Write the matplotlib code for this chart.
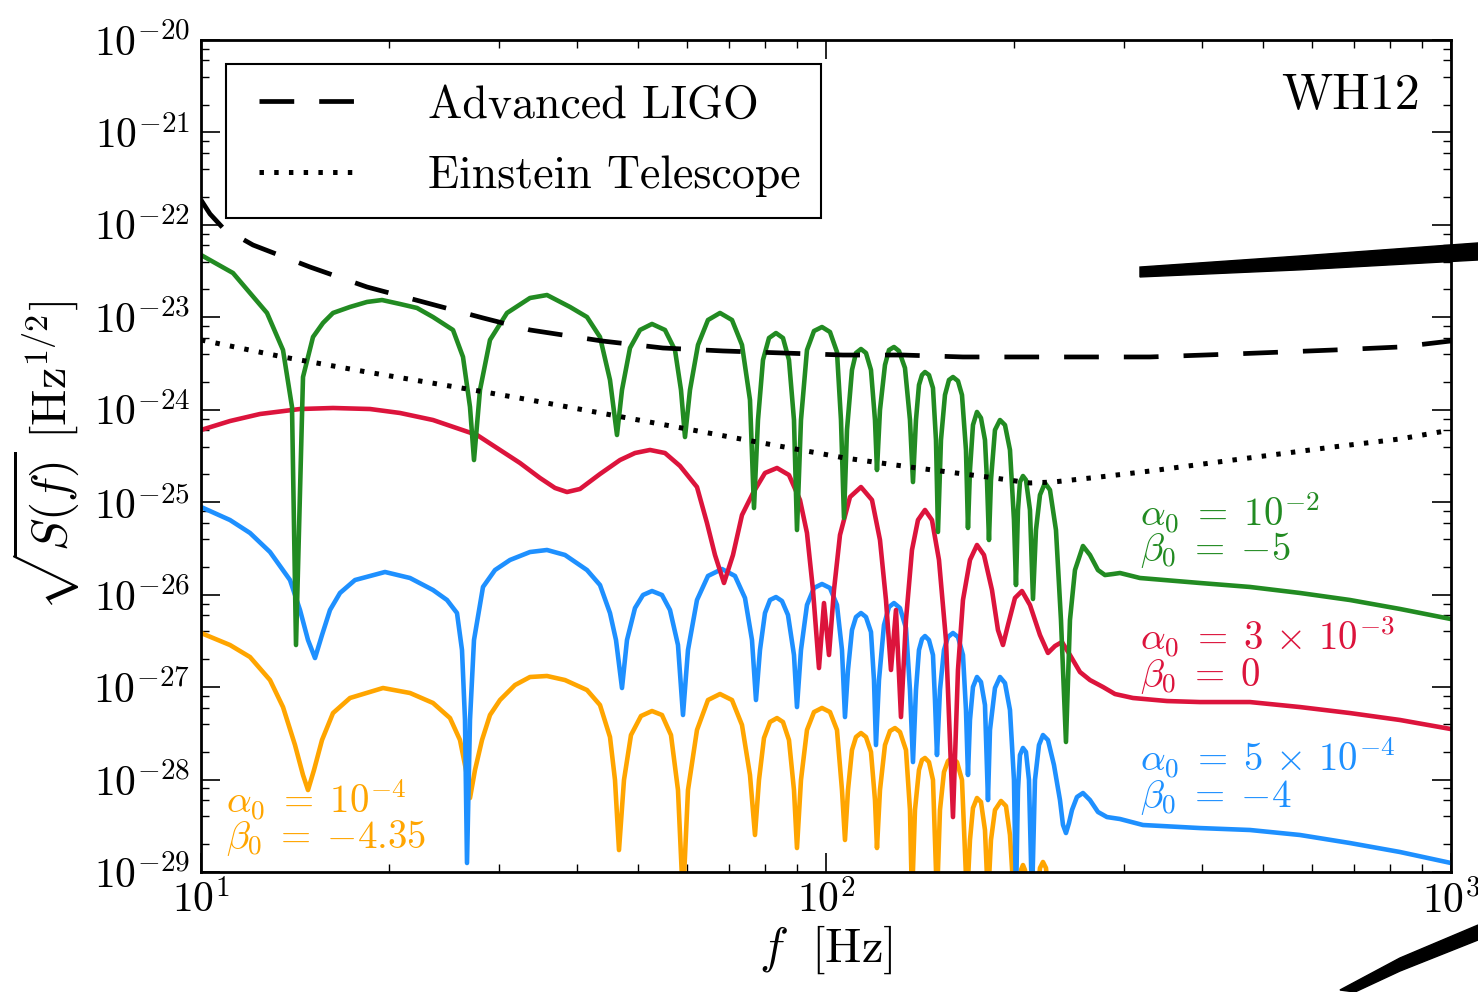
import numpy as np
import matplotlib
matplotlib.use('Agg')
import matplotlib.pyplot as plt
from matplotlib import ticker
from matplotlib.patches import Polygon
from matplotlib.legend_handler import HandlerLine2D

plt.rcParams['font.family'] = 'serif'
plt.rcParams['font.serif'] = ['cmr10']
plt.rcParams['mathtext.fontset'] = 'cm'
plt.rcParams['axes.unicode_minus'] = False
plt.rcParams['axes.formatter.use_mathtext'] = True
plt.rcParams['lines.scale_dashes'] = False

# values: log10 f [Hz] and log10 sqrt(S) [Hz^1/2]
green_logf = [1.0, 1.0512, 1.1056, 1.1312, 1.1456, 1.152, 1.1632, 1.1792, 1.1952, 1.2112, 1.2384, 1.2656, 1.2896, 1.3184,
              1.3456, 1.3712, 1.4032, 1.4192, 1.4304, 1.4368, 1.4464, 1.4624, 1.4896, 1.5264, 1.5536, 1.5904, 1.6176,
              1.6384, 1.6544, 1.6656,
              1.6736, 1.6864, 1.7024, 1.7216, 1.7424, 1.7584, 1.768, 1.7744,
              1.7824, 1.7952, 1.8112, 1.8304, 1.8496, 1.8656, 1.8784, 1.8848,
              1.8912, 1.8992, 1.9088, 1.92, 1.9312, 1.9408, 1.9488, 1.9536,
              1.96, 1.9696, 1.9808, 1.9936, 2.0064, 2.0176, 2.024, 2.0288,
              2.0336, 2.0416, 2.048, 2.056, 2.064, 2.072, 2.0784, 2.0816,
              2.0864, 2.0944, 2.1008, 2.1088, 2.1168, 2.1264, 2.1344, 2.1392,
              2.144, 2.1488, 2.1536, 2.1584, 2.1648, 2.1712, 2.176, 2.1792,
              2.184, 2.1904, 2.1968, 2.2032, 2.2112, 2.2176, 2.224, 2.2272,
              2.2304, 2.2352, 2.2416, 2.248, 2.2544, 2.2576, 2.2608,
              2.264, 2.2704, 2.2784, 2.2864, 2.2944, 2.3008, 2.304,
              2.3072, 2.3104, 2.3152, 2.32, 2.3264, 2.3312,
              2.336, 2.3424, 2.3504, 2.3584, 2.368, 2.376, 2.384,
              2.3904, 2.3984, 2.4112, 2.4224, 2.4352, 2.4464, 2.4592, 2.4704, 2.5024, 2.5984, 2.6784, 2.7584,
              2.8384, 2.9184, 3.0]
green_logS = [-22.326, -22.521, -22.953, -23.354, -23.970, -26.545, -23.646, -23.213, -23.061, -22.953, -22.888, -22.834, -22.813, -22.856,
              -22.899, -22.997, -23.137, -23.429, -23.970, -24.544, -23.786, -23.245, -22.953, -22.791, -22.759, -22.888, -22.997,
              -23.213, -23.678, -24.273,
              -23.786, -23.332, -23.137, -23.072, -23.137, -23.354, -23.786, -24.295,
              -23.786, -23.299, -23.029, -22.953, -23.029, -23.299, -23.894, -25.063,
              -24.111, -23.462, -23.224, -23.170, -23.224, -23.462, -24.111, -25.301,
              -24.111, -23.354, -23.148, -23.105, -23.159, -23.375, -24.111, -25.171,
              -24.219, -23.570, -23.386, -23.343, -23.386, -23.570, -24.111, -24.652,
              -24.003, -23.516, -23.354, -23.321, -23.364, -23.548, -24.111, -24.782,
              -24.111, -23.732, -23.624, -23.592, -23.624, -23.765, -24.327, -25.322,
              -24.327, -23.840, -23.678, -23.646, -23.689, -23.840, -24.435, -25.279,
              -24.652, -24.165, -24.024, -24.089, -24.327, -24.760, -25.409,
              -24.760, -24.219, -24.111, -24.165, -24.435, -25.193, -25.896,
              -25.084, -24.782, -24.717, -24.760, -25.084, -26.047,
              -25.301, -24.922, -24.792, -24.868, -25.301, -26.274, -27.594,
              -26.274, -25.734, -25.474, -25.571, -25.734, -25.788, -25.777, -25.766, -25.820, -25.874, -25.917, -25.982,
              -26.058, -26.155, -26.264]

red_logf = [1.0, 1.0464, 1.0944, 1.1584, 1.2112, 1.2704, 1.3184, 1.3712, 1.4416, 1.4784, 1.5104, 1.5424, 1.5664, 1.5856,
            1.6064, 1.6384, 1.6704, 1.6944, 1.7184, 1.7424, 1.7664, 1.7936, 1.8096, 1.8224, 1.8368, 1.8512, 1.8656, 1.8832,
            1.9024, 1.9216, 1.9408, 1.9584, 1.9696, 1.9792, 1.9888, 1.9968, 2.0048, 2.0128, 2.0224, 2.0384, 2.056, 2.0736,
            2.0864, 2.096, 2.104, 2.112, 2.12, 2.128, 2.1376, 2.1472, 2.1584, 2.1696, 2.1808, 2.192, 2.2032, 2.2112, 2.2192,
            2.2304, 2.2416, 2.2528, 2.2656, 2.2752, 2.2832, 2.2912, 2.3024, 2.3136, 2.3264, 2.3424, 2.3552, 2.3664, 2.3776,
            2.3904, 2.4064, 2.4224, 2.4432, 2.4624, 2.4912, 2.5456, 2.5984, 2.6784, 2.7584, 2.8384, 2.9184, 3.0]
red_logS = [-24.219, -24.122, -24.046, -23.992, -23.981, -23.992, -24.035, -24.111, -24.273, -24.435, -24.576, -24.738, -24.846, -24.890,
            -24.857, -24.695, -24.544, -24.468, -24.435, -24.468, -24.608, -24.836, -25.225, -25.571, -25.874, -25.571, -25.139, -24.901,
            -24.684, -24.630, -24.706, -24.976, -25.333, -25.950, -26.794, -26.091, -26.653, -25.950, -25.355, -24.944, -24.836, -24.976,
            -25.409, -26.058, -26.815, -26.166, -27.324, -26.274, -25.517, -25.193, -25.084, -25.193, -25.625, -26.491, -28.406, -26.815, -26.058,
            -25.625, -25.463, -25.571, -25.950, -26.383, -26.545, -26.329, -26.036, -25.961, -26.112, -26.437, -26.631, -26.556, -26.512,
            -26.653, -26.837, -26.924, -26.999, -27.075, -27.118, -27.151, -27.162, -27.162, -27.216, -27.281, -27.356, -27.454]

blue_logf = [1.0, 1.0464, 1.0784, 1.1104, 1.1424, 1.1584, 1.1712, 1.1824, 1.1936, 1.2064, 1.2224, 1.2464, 1.2944, 1.3344,
             1.3712, 1.3936, 1.4096, 1.4176, 1.4224, 1.4256, 1.4304, 1.4368, 1.4512, 1.4704, 1.4944, 1.5264, 1.5536, 1.5824,
             1.6176, 1.6384, 1.6544, 1.664, 1.6736,
             1.6816, 1.6944, 1.7072, 1.7216, 1.7376, 1.7504, 1.7632, 1.7712,
             1.7792, 1.7936, 1.8112, 1.8336, 1.8544, 1.8704, 1.8816, 1.888,
             1.8944, 1.9024, 1.9104, 1.92, 1.9296, 1.9392, 1.9488, 1.9536,
             1.96, 1.9696, 1.9808, 1.9936, 2.0064, 2.0176, 2.0256, 2.0304,
             2.0352, 2.0416, 2.048, 2.056, 2.064, 2.072, 2.0768, 2.08,
             2.0848, 2.0928, 2.1008, 2.1088, 2.1184, 2.128, 2.1344, 2.1392,
             2.144, 2.1488, 2.1536, 2.1584, 2.1648, 2.1712, 2.1744, 2.1776,
             2.1824, 2.1888, 2.1952, 2.2032, 2.2112, 2.2192, 2.224, 2.2272,
             2.2304, 2.2352, 2.2416, 2.248, 2.2544, 2.2592,
             2.2624, 2.2704, 2.2784, 2.2864, 2.2944, 2.3008, 2.304,
             2.3072, 2.3104, 2.3152, 2.32, 2.3248, 2.3296,
             2.3344, 2.3408, 2.3472, 2.3552, 2.3648, 2.3744, 2.3792, 2.384, 2.3888,
             2.3936, 2.4016, 2.4112, 2.4224, 2.4352, 2.4496, 2.4704, 2.5072, 2.5984, 2.6784, 2.7584, 2.8384, 2.9184, 3.0]
blue_logS = [-25.052, -25.193, -25.333, -25.539, -25.842, -26.166, -26.491, -26.686, -26.437, -26.166, -25.982, -25.842, -25.755, -25.820,
             -25.950, -26.058, -26.199, -26.599, -27.356, -28.903, -27.356, -26.491, -25.917, -25.734, -25.625, -25.539, -25.517, -25.571,
             -25.734, -25.896, -26.199, -26.491, -27.010,
             -26.491, -26.145, -26.004, -25.961, -26.004, -26.166, -26.545, -27.302,
             -26.599, -26.058, -25.798, -25.723, -25.798, -26.036, -26.491, -27.140,
             -26.599, -26.199, -26.058, -26.026, -26.069, -26.220, -26.653, -27.216,
             -26.599, -26.112, -25.928, -25.885, -25.928, -26.112, -26.599, -27.324,
             -26.815, -26.383, -26.242, -26.199, -26.242, -26.404, -26.924, -27.627,
             -26.924, -26.329, -26.134, -26.091, -26.145, -26.361, -27.032, -27.811,
             -27.032, -26.599, -26.480, -26.448, -26.491, -26.653, -27.140, -27.735,
             -27.032, -26.599, -26.458, -26.415, -26.458, -26.653, -27.248, -27.951,
             -27.356, -26.999, -26.891, -26.945, -27.194, -28.222,
             -27.464, -27.010, -26.891, -26.956, -27.248, -28.005, -29.303,
             -28.114, -27.735, -27.659, -27.702, -28.005, -29.303,
             -28.005, -27.627, -27.519, -27.573, -27.843, -28.222, -28.490, -28.579, -28.470,
             -28.330, -28.189, -28.146, -28.222, -28.351, -28.406, -28.427, -28.492, -28.525, -28.546, -28.600, -28.687, -28.784, -28.903]

orange_logf = [1.0, 1.0464, 1.0784, 1.1104, 1.1312, 1.1504, 1.1632, 1.1712, 1.1808, 1.1936, 1.2112, 1.2384, 1.2912, 1.3344,
               1.3712, 1.3984, 1.4144, 1.424, 1.4304, 1.4384, 1.4496, 1.4624, 1.4784, 1.5024, 1.5264, 1.5536, 1.5824, 1.6176,
               1.6384, 1.6544, 1.6624, 1.6688,
               1.6768, 1.688, 1.704, 1.7216, 1.7376, 1.752, 1.7632, 1.7712,
               1.7792, 1.7936, 1.8112, 1.8304, 1.8496, 1.8656, 1.8784, 1.8864,
               1.8928, 1.9008, 1.9104, 1.9216, 1.9312, 1.9408, 1.9488, 1.9536,
               1.96, 1.9696, 1.9808, 1.9936, 2.0064, 2.0176, 2.0256, 2.0304,
               2.0352, 2.0416, 2.048, 2.056, 2.064, 2.072, 2.0784, 2.0816,
               2.0864, 2.0944, 2.1024, 2.1104, 2.1184, 2.128, 2.1344, 2.1376,
               2.1424, 2.1488, 2.1536, 2.1584, 2.1648, 2.1712, 2.1776,
               2.1824, 2.1888, 2.1952, 2.2016, 2.2096, 2.2176, 2.2256,
               2.2304, 2.2352, 2.2416, 2.248, 2.2544, 2.2592,
               2.264, 2.2704, 2.28, 2.288, 2.2944, 2.3008,
               2.3088, 2.312, 2.3152, 2.3184, 2.3232, 2.3376, 2.3424, 2.3472, 2.352, 2.3568]
orange_logS = [-26.415, -26.545, -26.675, -26.924, -27.216, -27.627, -27.951, -28.114, -27.897, -27.573, -27.281, -27.118, -27.010, -27.064,
               -27.172, -27.335, -27.573, -27.897, -28.200, -27.897, -27.573, -27.302, -27.140, -26.978, -26.891, -26.880, -26.924, -27.032,
               -27.194, -27.540, -28.005, -28.763,
               -28.005, -27.519, -27.313, -27.259, -27.302, -27.519, -28.114, -29.303,
               -28.114, -27.464, -27.140, -27.075, -27.140, -27.410, -27.951, -28.600,
               -28.005, -27.551, -27.378, -27.335, -27.378, -27.573, -28.114, -28.741,
               -28.005, -27.464, -27.270, -27.226, -27.270, -27.464, -28.114, -28.654,
               -28.114, -27.681, -27.540, -27.497, -27.540, -27.702, -28.222, -28.741,
               -28.114, -27.627, -27.475, -27.443, -27.486, -27.681, -28.330, -29.303,
               -28.330, -27.897, -27.789, -27.767, -27.811, -28.005, -29.303,
               -28.330, -27.919, -27.800, -27.767, -27.811, -28.005, -29.303,
               -28.654, -28.308, -28.200, -28.243, -28.546, -29.303,
               -28.654, -28.330, -28.232, -28.287, -28.600, -29.303,
               -29.303, -28.979, -28.925, -28.979, -29.303, -29.303, -28.957, -28.892, -28.957, -29.303]

aligo_logf = [1.0, 1.0144, 1.0352, 1.0832, 1.1744, 1.2656, 1.3616, 1.4512, 1.5264, 1.6416, 1.7392, 1.8352,
              1.9312, 2.0272, 2.1232, 2.2192, 2.3152, 2.4176, 2.5184, 2.6512, 2.8112, 2.9184, 3.0]
aligo_logS = [-21.731, -21.882, -22.034, -22.218, -22.456, -22.672, -22.845, -23.007, -23.137, -23.256, -23.332, -23.364,
              -23.386, -23.408, -23.408, -23.429, -23.429, -23.429, -23.429, -23.397, -23.354, -23.321, -23.256]

et_logf = [1.0, 1.1312, 1.2656, 1.4352, 1.5264, 1.6656, 1.7776, 1.8896, 2.0304, 2.1456, 2.2576, 2.3264, 2.3632,
           2.4384, 2.5184, 2.6512, 2.8112, 2.9184, 3.0]
et_logS = [-23.245, -23.429, -23.592, -23.786, -23.894, -24.068, -24.208, -24.349, -24.522, -24.630, -24.727, -24.792, -24.782,
           -24.727, -24.663, -24.544, -24.403, -24.316, -24.219]

curves = [(orange_logf, orange_logS, 'orange'),
          (blue_logf, blue_logS, 'dodgerblue'),
          (red_logf, red_logS, 'crimson'),
          (green_logf, green_logS, 'forestgreen')]

fig = plt.figure(figsize=(14.78, 9.92), dpi=100)
ax = fig.add_axes([0.136, 0.121, 0.8457, 0.8387])

for lf, ls, col in curves:
    ax.plot(10**np.array(lf), 10**np.array(ls), color=col, lw=3.3, solid_joinstyle='round')

l1, = ax.plot(10**np.array(aligo_logf), 10**np.array(aligo_logS), color='k', lw=3.4,
              dashes=(25, 18), dash_capstyle='butt', label='Advanced LIGO')
l2, = ax.plot(10**np.array(et_logf), 10**np.array(et_logS), color='k', lw=3.6,
              dashes=(3.2, 7.4), dash_capstyle='butt', label='Einstein Telescope')

ax.set_xscale('log')
ax.set_yscale('log')
ax.set_xlim(10, 1000)
ax.set_ylim(1e-29, 1e-20)

ax.yaxis.set_major_locator(ticker.LogLocator(base=10, numticks=20))
ax.yaxis.set_minor_locator(ticker.LogLocator(base=10, subs=(2, 4, 6, 8), numticks=20))
ax.xaxis.set_minor_locator(ticker.LogLocator(base=10, subs=np.arange(2, 10), numticks=20))
fmt = ticker.FuncFormatter(lambda v, p: r'$10^{%d}$' % int(round(np.log10(v))))
ax.xaxis.set_major_formatter(fmt)
ax.yaxis.set_major_formatter(fmt)
ax.yaxis.set_minor_formatter(ticker.NullFormatter())
ax.xaxis.set_minor_formatter(ticker.NullFormatter())

ax.tick_params(which='both', direction='in', top=True, right=True, labelsize=30)
ax.tick_params(which='major', length=14, width=1.2)
ax.tick_params(which='minor', length=6, width=1.0)
ax.tick_params(axis='x', which='major', pad=6)
ax.tick_params(axis='y', which='major', pad=8)
for sp in ax.spines.values():
    sp.set_linewidth(2.0)

ax.set_xlabel(r'$f\ \ [\mathrm{Hz}]$', fontsize=35)
ax.set_ylabel(r'$\sqrt{S(f)}\ [\mathrm{Hz}^{1/2}]$', fontsize=35)
ax.xaxis.set_label_coords(0.5, -0.062)
ax.yaxis.set_label_coords(-0.095, 0.5)

leg = ax.legend(handles=[l1, l2], loc='upper left', bbox_to_anchor=(0.02, 0.971), borderaxespad=0,
                fontsize=33, fancybox=False, edgecolor='k', framealpha=1, handlelength=2.42,
                handletextpad=1.53, labelspacing=0.64, borderpad=0.45,
                handler_map={l1: HandlerLine2D(xpad=0.28), l2: HandlerLine2D(xpad=0.28)})
leg.get_frame().set_linewidth(1.5)

ax.text(0.975, 0.934, 'WH12', transform=ax.transAxes, ha='right', va='center', fontsize=36)

# parameter labels next to each curve
labels = [(0.751, 0.4315, r'$\alpha_0\;=\;10^{-2}$', 'forestgreen'),
          (0.751, 0.387, r'$\beta_0\;=\;{-5}$', 'forestgreen'),
          (0.751, 0.2825, r'$\alpha_0\;=\;3\,\times\,10^{-3}$', 'crimson'),
          (0.751, 0.2356, r'$\beta_0\;=\;0$', 'crimson'),
          (0.751, 0.137, r'$\alpha_0\;=\;5\,\times\,10^{-4}$', 'dodgerblue'),
          (0.751, 0.089, r'$\beta_0\;=\;{-4}$', 'dodgerblue'),
          (0.02, 0.0865, r'$\alpha_0\;=\;10^{-4}$', 'orange'),
          (0.02, 0.041, r'$\beta_0\;=\;{-4.35}$', 'orange')]
for x, y, s, col in labels:
    ax.text(x, y, s, transform=ax.transAxes, color=col, fontsize=28, va='center')

# pen strokes on the scanned page
fig.add_artist(Polygon([(0.7713, 0.7308), (0.88, 0.742), (1.0, 0.7551), (1.0, 0.7379), (0.88, 0.728), (0.7713, 0.7208)],
                       closed=True, transform=fig.transFigure, facecolor='k', edgecolor='k'))
fig.add_artist(Polygon([(0.9066, 0.002), (0.9472, 0.0343), (1.0, 0.0675), (1.0, 0.0524), (0.9472, 0.0211), (0.9168, 0.0)],
                       closed=True, transform=fig.transFigure, facecolor='k', edgecolor='k'))

fig.savefig('out.png', dpi=100)
